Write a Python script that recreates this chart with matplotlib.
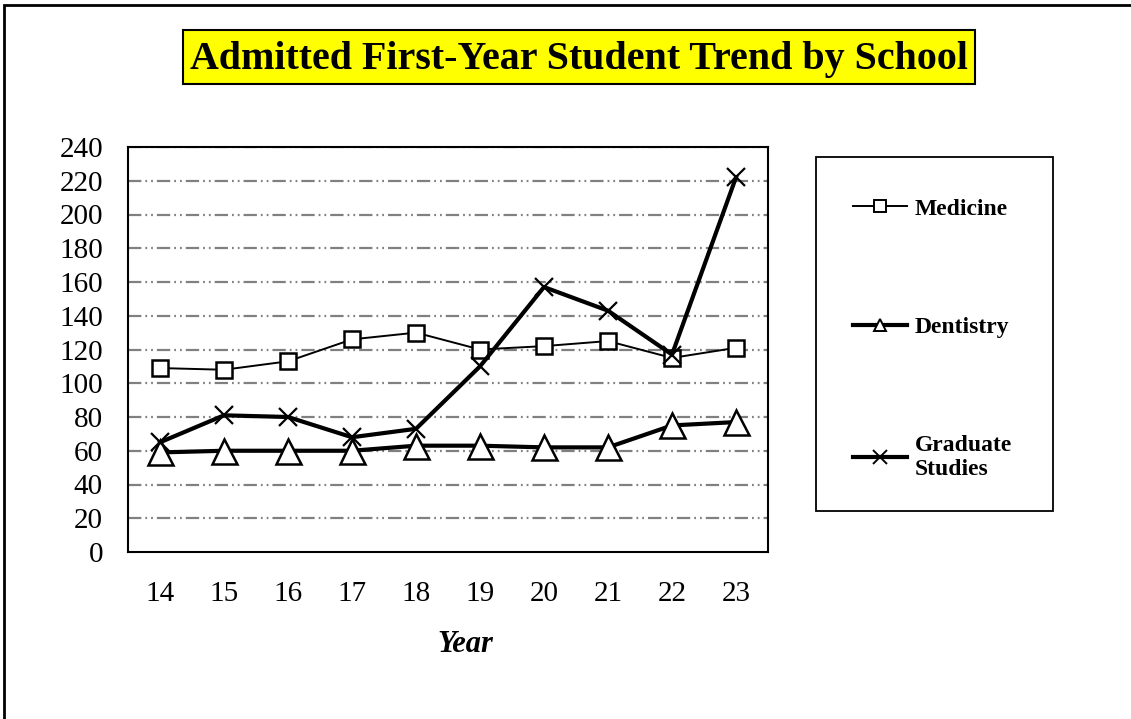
import matplotlib
matplotlib.use("Agg")
import matplotlib.pyplot as plt
from matplotlib.patches import Rectangle

years = ['14', '15', '16', '17', '18', '19', '20', '21', '22', '23']
medicine = [109, 108, 113, 126, 130, 120, 122, 125, 115, 121]
dentistry = [59, 60, 60, 60, 63, 63, 62, 62, 75, 77]
graduate = [65, 81, 80, 68, 73, 110, 157, 143, 117, 222]

plt.rcParams['font.family'] = ['Liberation Serif', 'DejaVu Serif']

W, H = 1131, 719
fig = plt.figure(figsize=(W / 100, H / 100), dpi=100)
ax = fig.add_axes([128 / W, 1 - 552 / H, 640 / W, 405 / H])

x = range(len(years))
l1, = ax.plot(x, medicine, color='black', lw=1.4, marker='s', ms=11,
              mfc='white', mec='black', mew=1.8)
l2, = ax.plot(x, dentistry, color='black', lw=3, marker='^', ms=18,
              mfc='white', mec='black', mew=1.8)
l3, = ax.plot(x, graduate, color='black', lw=3, marker='x', ms=13,
              mec='black', mew=1.6)

ax.set_xlim(-0.5, 9.5)
ax.set_ylim(0, 240)
ax.set_yticks(range(0, 241, 20))
ax.set_xticks(list(x))
ax.set_xticklabels(years)
ax.tick_params(length=0, labelsize=21)
ax.tick_params(axis='x', pad=21)
ax.tick_params(axis='y', pad=18)
for yv in range(20, 241, 20):
    ax.axhline(yv, color='#808080', lw=1.6, ls=(0, (6, 1.8, 0.8, 1.8, 0.8, 1.8)), zorder=0)
for s in ax.spines.values():
    s.set_color('black')
    s.set_linewidth(1.5)

ax.set_xlabel('Year', fontsize=22, fontweight='bold', style='italic')
ax.xaxis.set_label_coords(465 / W, 1 - 644 / H, transform=fig.transFigure)
ax.xaxis.label.set_va('center')

# title with yellow box
fig.patches.append(Rectangle((183 / W, 1 - 84 / H), 792 / W, 54 / H,
                             transform=fig.transFigure, fc='#ffff00',
                             ec='black', lw=1.5))
fig.text(579 / W, 1 - 60 / H, 'Admitted First-Year Student Trend by School',
         ha='center', va='center', fontsize=28.8, fontweight='bold')

# legend box
fig.patches.append(Rectangle((816 / W, 1 - 511 / H), 237 / W, 354 / H,
                             transform=fig.transFigure, fill=False,
                             ec='black', lw=1.3))
leg = fig.legend([l1, l2, l3], ['Medicine', 'Dentistry', 'Graduate\nStudies'],
                 loc='upper left', bbox_to_anchor=(853 / W, 1 - 198 / H),
                 frameon=False, prop={'weight': 'bold', 'size': 17},
                 handlelength=2.3, handletextpad=0.3, labelspacing=4.1,
                 borderpad=0, borderaxespad=0)
for h, ms in zip(leg.legend_handles, [8, 9, 10]):
    h.set_markersize(ms)
    h.set_markeredgewidth(1.4)

# outer border (cut off at right and bottom)
fig.patches.append(Rectangle((4 / W, -0.2), 1.5, 1 - 5 / H + 0.2,
                             transform=fig.transFigure, fill=False,
                             ec='black', lw=2))

fig.savefig('out.png', dpi=100)
